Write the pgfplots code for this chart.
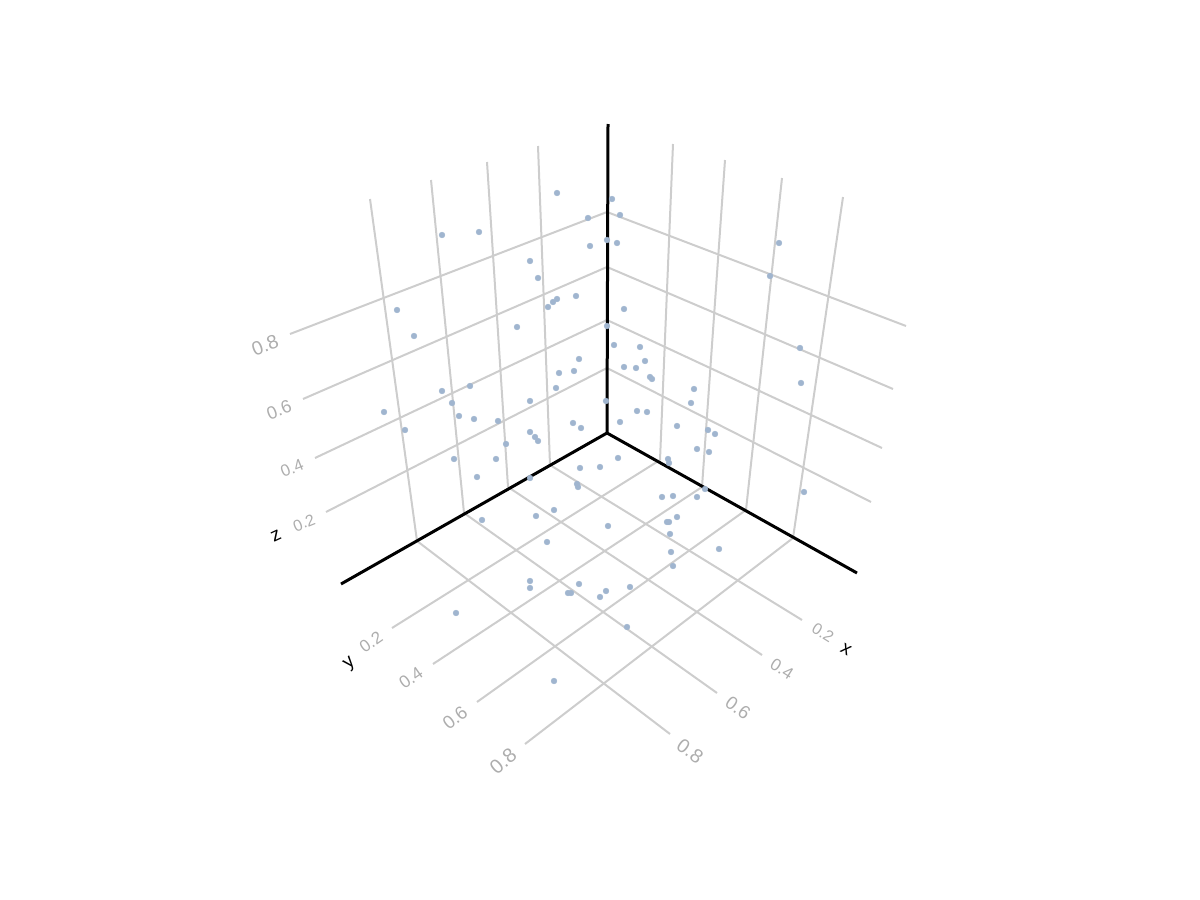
\documentclass[border=0pt]{standalone}
\usepackage{fontspec}
\setmainfont{Liberation Sans}
\usepackage{pgfplots}
\usepackage{pgfplotstable}
\pgfplotsset{compat=1.18}
\definecolor{gridc}{HTML}{CDCDCD}
\definecolor{tickc}{HTML}{ADADAD}
\definecolor{dotc}{HTML}{A0B5CF}

% projected positions of the 3d points, in picture pixels
\pgfplotstableread{
px py
557 193
588 218
607 240
590 246
442 235
479 232
530 261
538 278
576 296
557 299
553 302
548 307
397 310
414 336
517 327
607 326
579 359
559 373
574 371
612 199
620 215
617 243
779 243
770 276
624 309
800 348
614 345
640 347
645 361
624 367
636 368
650 377
652 379
442 391
470 386
384 412
452 403
459 416
474 419
498 421
530 401
556 388
606 401
405 430
530 432
535 437
538 441
573 423
581 428
506 444
454 459
496 459
477 477
530 478
580 468
600 467
577 484
578 487
482 520
536 516
554 510
547 542
608 526
530 581
530 588
579 584
568 593
571 593
606 591
600 597
801 383
694 389
691 403
637 411
647 412
620 422
677 426
708 430
715 434
697 449
709 452
618 458
668 459
669 463
705 489
662 497
673 496
697 497
804 492
677 517
667 522
669 522
670 534
671 552
719 549
673 566
630 587
627 627
456 613
554 681
}\points

\newcommand{\gridline}[4]{\addplot[gridc,line width=2pt,forget plot] coordinates {(#1,#2) (#3,#4)};}
\newcommand{\spine}[4]{\addplot[black,line width=3pt,forget plot] coordinates {(#1,#2) (#3,#4)};}
\newcommand{\ticklab}[4]{\node[text=tickc,rotate=#3,font=\fontsize{#4}{#4}\selectfont] at (axis cs:#1) {#2};}

\begin{document}
\begin{tikzpicture}
\begin{axis}[
    scale only axis,
    width=1200pt, height=900pt,
    xmin=0, xmax=1200, ymin=0, ymax=900,
    y dir=reverse,
    hide axis,
    clip=false,
]
% left wall
\gridline{370}{199}{417}{541}
\gridline{431}{180}{464}{513}
\gridline{487}{162}{508}{487}
\gridline{538}{146}{550}{465}
\gridline{290}{334}{607}{212}
\gridline{303}{399}{607}{267}
\gridline{315}{458}{607}{320}
\gridline{326}{512}{607}{368}
% right wall
\gridline{673}{144}{660}{460}
\gridline{725}{160}{702}{487}
\gridline{782}{178}{746}{510}
\gridline{843}{197}{793}{538}
\gridline{607}{212}{906}{326}
\gridline{607}{267}{893}{389}
\gridline{607}{320}{882}{448}
\gridline{607}{368}{871}{502}
% floor
\gridline{417}{541}{670}{734}
\gridline{464}{513}{717}{693}
\gridline{508}{487}{762}{655}
\gridline{550}{465}{802}{620}
\gridline{660}{460}{392}{628}
\gridline{702}{487}{433}{664}
\gridline{746}{510}{477}{702}
\gridline{793}{538}{525}{744}
% axes
\spine{607}{433}{608}{124}
\spine{607}{433}{857}{573}
\spine{607}{433}{341}{584}
\addplot[only marks,mark=*,mark size=2.9pt,dotc,mark options={draw=none,fill=dotc}] table[x=px,y=py] {\points};
% tick labels
\ticklab{265,345}{0.8}{21}{19.5}
\ticklab{279,410}{0.6}{21}{18}
\ticklab{292,468}{0.4}{22}{16.5}
\ticklab{304,523}{0.2}{22}{16}
\ticklab{371,642}{0.2}{35}{17}
\ticklab{411,678}{0.4}{35}{17.5}
\ticklab{455,718}{0.6}{38}{18.5}
\ticklab{503,761}{0.8}{40}{20}
\ticklab{823,633}{0.2}{-32}{16}
\ticklab{782,669}{0.4}{-32}{17}
\ticklab{738,708}{0.6}{-36}{18.5}
\ticklab{690,751}{0.8}{-36}{19.5}
\node[black,rotate=25,font=\fontsize{19}{19}\selectfont] at (axis cs:276,536) {z};
\node[black,rotate=40,font=\fontsize{19}{19}\selectfont] at (axis cs:350,664) {y};
\node[black,rotate=-30,font=\fontsize{19}{19}\selectfont] at (axis cs:846,650) {x};
\end{axis}
\useasboundingbox (0,0) rectangle (1200pt,900pt);
\end{tikzpicture}
\end{document}
